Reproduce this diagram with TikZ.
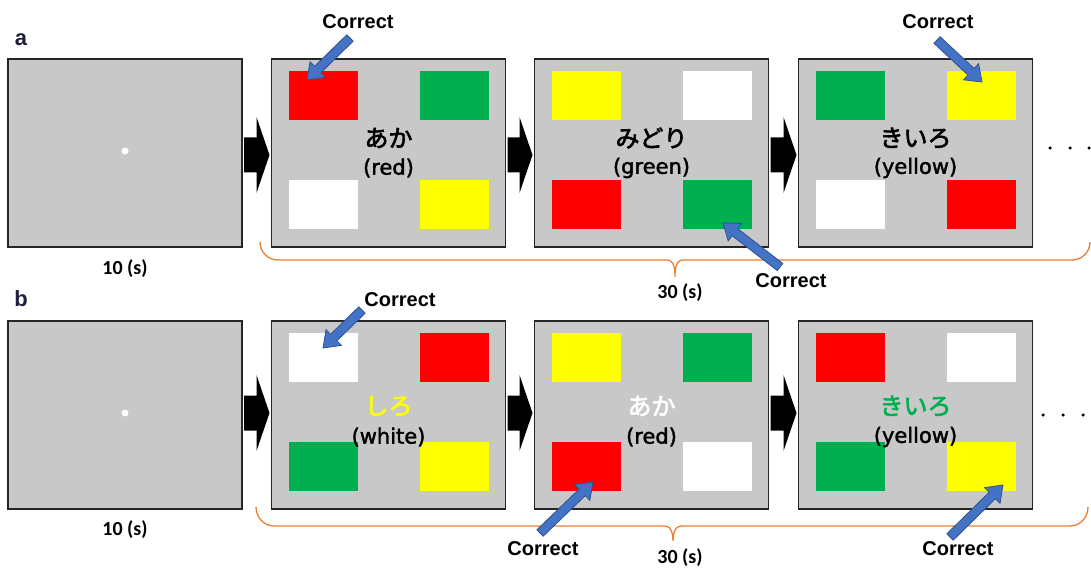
\documentclass[tikz,border=0pt]{standalone}
\usepackage{fontspec}
\usetikzlibrary{calc}
\newfontfamily\jpfont[FakeBold=2.5]{Noto Sans CJK JP}
\newfontfamily\glossfont[FakeBold=1.8]{DejaVu Sans}
\newfontfamily\labelfont{Liberation Sans}
\newfontfamily\timefont{Carlito}

\definecolor{panelgray}{RGB}{200,200,200}
\definecolor{sqred}{RGB}{255,0,0}
\definecolor{sqgreen}{RGB}{0,176,80}
\definecolor{sqyellow}{RGB}{255,255,0}
\definecolor{ptrfill}{RGB}{68,114,196}
\definecolor{ptredge}{RGB}{47,82,143}
\definecolor{braceorange}{RGB}{237,125,49}
\definecolor{tagnavy}{RGB}{30,32,60}

\tikzset{
  panel/.style={draw=black!85, line width=1.2pt, fill=panelgray,
    minimum width=234pt, minimum height=188pt, inner sep=0pt, outer sep=0pt},
  swatch/.style={fill=#1, minimum width=69pt, minimum height=49pt,
    inner sep=0pt, anchor=north west},
  word/.style={font=\jpfont\fontsize{24}{28}\selectfont, inner sep=0pt},
  gloss/.style={font=\glossfont\fontsize{21}{25}\selectfont, inner sep=0pt},
  correct/.style={font=\labelfont\bfseries\fontsize{20}{24}\selectfont, inner sep=0pt},
  duration/.style={font=\timefont\bfseries\fontsize{20}{24}\selectfont, inner sep=0pt},
  tag/.style={font=\labelfont\bfseries\fontsize{22}{26}\selectfont, text=tagnavy, inner sep=0pt},
  ptr/.style={fill=ptrfill, draw=ptredge, line width=0.8pt, line join=miter},
  flow/.style={fill=black},
  brace/.style={draw=braceorange, line width=1.3pt},
  fixdot/.style={circle, fill=white, minimum size=7pt, inner sep=0pt},
  etc/.style={circle, fill=black, minimum size=3.5pt, inner sep=0pt},
}

% four coloured rectangles of a trial screen: TL, TR, BL, BR
\newcommand\swatches[5]{%
  \node[swatch=#2] (#1-tl) at ($(#1.north west)+(17,12)$) {};
  \node[swatch=#3] (#1-tr) at ($(#1.north west)+(148,12)$) {};
  \node[swatch=#4] (#1-bl) at ($(#1.north west)+(17,121)$) {};
  \node[swatch=#5] (#1-br) at ($(#1.north west)+(148,121)$) {};}

% black block arrow from one screen to the next (#3 = vertical shift)
\newcommand\flowarrow[3]{%
  \fill[flow] let \p1=($(#1.east)+(2,#3)$), \p2=($(#2.west)+(-2,#3)$) in
    ({\x1},{\y1+17.5pt}) -- ({\x2-13pt},{\y1+17.5pt}) -- ({\x2-13pt},{\y1+38pt})
    -- ({\x2},{\y1}) -- ({\x2-13pt},{\y1-38pt}) -- ({\x2-13pt},{\y1-17.5pt})
    -- ({\x1},{\y1-17.5pt}) -- cycle;}

% blue block pointer from tail #1 to tip #2
\newcommand\pointer[2]{%
  \coordinate (ph) at ($(#2)!15pt!(#1)$);
  \draw[ptr] ($(#1)!4.5pt!90:(#2)$) -- ($(ph)!4.5pt!-90:(#1)$)
    -- ($(ph)!11pt!-90:(#1)$) -- (#2) -- ($(ph)!11pt!90:(#1)$)
    -- ($(ph)!4.5pt!90:(#1)$) -- ($(#1)!4.5pt!-90:(#2)$) -- cycle;}

\begin{document}
\begin{tikzpicture}[x=1pt, y=-1pt]
\useasboundingbox (0,0) rectangle (1091,569);

% ---------------- row a ----------------
\node[tag] (taga) at (21,40) {a};
\node[panel] (a1) at (125,153) {};
\node[fixdot] (a1dot) at (125,151) {};
\node[panel] (a2) at (388.5,153) {};
\node[panel] (a3) at (651.5,153) {};
\node[panel] (a4) at (915.5,153) {};
\swatches{a2}{sqred}{sqgreen}{white}{sqyellow}
\swatches{a3}{sqyellow}{white}{sqred}{sqgreen}
\swatches{a4}{sqgreen}{sqyellow}{white}{sqred}
\node[word]  (a2w) at ($(a2)+(0,-15)$) {あか};
\node[gloss] (a2g) at ($(a2)+(0,15)$) {(red)};
\node[word]  (a3w) at ($(a3)+(0,-15)$) {みどり};
\node[gloss] (a3g) at ($(a3)+(0,15)$) {(green)};
\node[word]  (a4w) at ($(a4)+(0,-15)$) {きいろ};
\node[gloss] (a4g) at ($(a4)+(0,15)$) {(yellow)};
\flowarrow{a1}{a2}{2}
\flowarrow{a2}{a3}{2}
\flowarrow{a3}{a4}{2}
\node[etc] (ae1) at (1050,148) {};
\node[etc] (ae2) at (1070,148) {};
\node[etc] (ae3) at (1089,148) {};
\node[duration] (a10) at (125,269) {10 (s)};
\draw[brace] (260,242) to[out=-90,in=180] (278,260) -- (667,260)
  to[out=0,in=90] (675,277) to[out=90,in=180] (683,260) -- (1072,260)
  to[out=0,in=-90] (1090,242);
\node[duration] (a30) at (680,293) {30 (s)};
% pointers to the correct choice
\node[correct] (ca2) at (358,22) {Correct};
\coordinate (ta2) at (350,38);  \coordinate (pa2) at (307,80);
\pointer{ta2}{pa2}
\node[correct] (ca3) at (791,281) {Correct};
\coordinate (ta3) at (780,267); \coordinate (pa3) at (723,223);
\pointer{ta3}{pa3}
\node[correct] (ca4) at (938,22) {Correct};
\coordinate (ta4) at (937,40);  \coordinate (pa4) at (982,82);
\pointer{ta4}{pa4}

% ---------------- row b ----------------
\node[tag] (tagb) at (21,299) {b};
\node[panel] (b1) at (125,415) {};
\node[fixdot] (b1dot) at (125,413) {};
\node[panel] (b2) at (388.5,415) {};
\node[panel] (b3) at (651.5,415) {};
\node[panel] (b4) at (915.5,415) {};
\swatches{b2}{white}{sqred}{sqgreen}{sqyellow}
\swatches{b3}{sqyellow}{sqgreen}{sqred}{white}
\swatches{b4}{sqred}{white}{sqgreen}{sqyellow}
\node[word, text=sqyellow] (b2w) at ($(b2)+(0,-9)$) {しろ};
\node[gloss] (b2g) at ($(b2)+(0,22)$) {(white)};
\node[word, text=white]    (b3w) at ($(b3)+(0,-9)$) {あか};
\node[gloss] (b3g) at ($(b3)+(0,22)$) {(red)};
\node[word, text=sqgreen]  (b4w) at ($(b4)+(0,-9)$) {きいろ};
\node[gloss] (b4g) at ($(b4)+(0,22)$) {(yellow)};
\flowarrow{b1}{b2}{-2}
\flowarrow{b2}{b3}{-2}
\flowarrow{b3}{b4}{-2}
\node[etc] (be1) at (1043,415) {};
\node[etc] (be2) at (1063,415) {};
\node[etc] (be3) at (1083,415) {};
\node[duration] (b10) at (125,530) {10 (s)};
\draw[brace] (256,507) to[out=-90,in=180] (274,526) -- (665,526)
  to[out=0,in=90] (673,541) to[out=90,in=180] (681,526) -- (1070,526)
  to[out=0,in=-90] (1088,507);
\node[duration] (b30) at (680,558) {30 (s)};
\node[correct] (cb2) at (400,300) {Correct};
\coordinate (tb2) at (362,310); \coordinate (pb2) at (323,348);
\pointer{tb2}{pb2}
\node[correct] (cb3) at (543,549) {Correct};
\coordinate (tb3) at (540,533); \coordinate (pb3) at (593,482);
\pointer{tb3}{pb3}
\node[correct] (cb4) at (958,549) {Correct};
\coordinate (tb4) at (950,537); \coordinate (pb4) at (1003,485);
\pointer{tb4}{pb4}
\end{tikzpicture}
\end{document}
